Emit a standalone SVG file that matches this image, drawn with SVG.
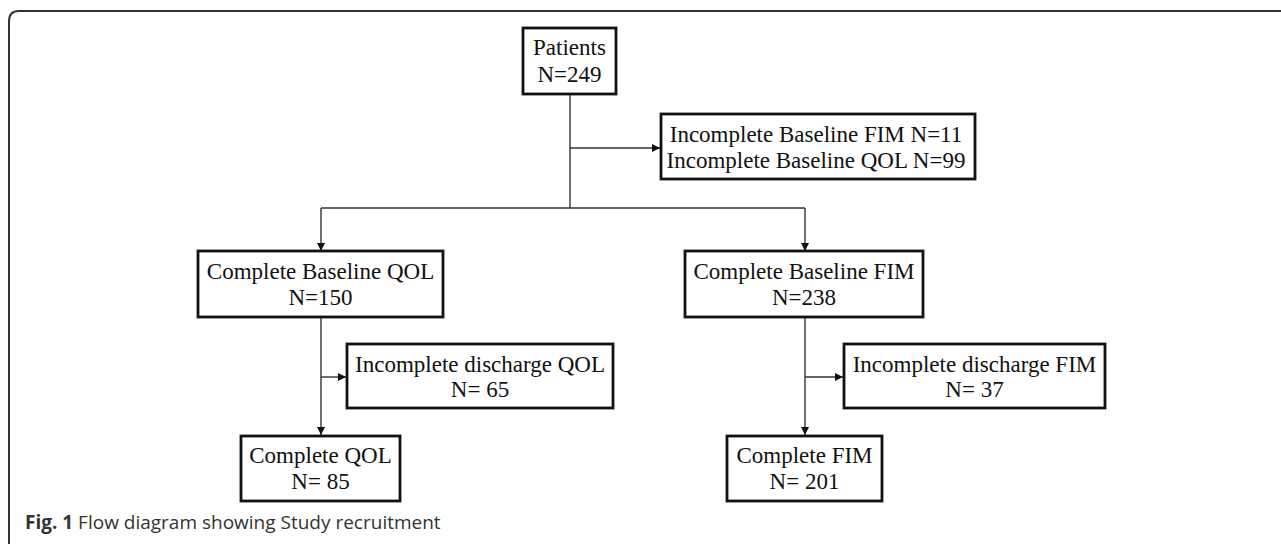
<svg xmlns="http://www.w3.org/2000/svg" width="1281" height="544" viewBox="0 0 1281 544">
<style>
.box{fill:#fff;stroke:#111;stroke-width:2.8}
.t{font-family:"Liberation Serif","Times New Roman",serif;font-size:23px;fill:#111;text-anchor:middle}
.c{fill:none;stroke:#333;stroke-width:1.4}
.frame{fill:none;stroke:#333;stroke-width:2}
.cap{font-family:"Open Sans","Noto Sans",sans-serif;font-size:19px;fill:#333}
</style>
<defs>
<marker id="ah" viewBox="0 0 10 10" refX="10" refY="5" markerWidth="8" markerHeight="8" markerUnits="userSpaceOnUse" orient="auto">
<path d="M0,0 L10,5 L0,10 z" fill="#111"/>
</marker>
</defs>
<rect width="1281" height="544" fill="#fff"/>
<path class="frame" d="M9,544 L9,21 Q9,11 19,11 L1281,11"/>
<g id="connectors">
<path class="c" d="M570,94 L570,208"/>
<path class="c" d="M570,148 L660,148" marker-end="url(#ah)"/>
<path class="c" d="M321,208 L805,208"/>
<path class="c" d="M321,208 L321,251" marker-end="url(#ah)"/>
<path class="c" d="M805,208 L805,251" marker-end="url(#ah)"/>
<path class="c" d="M321,317 L321,435" marker-end="url(#ah)"/>
<path class="c" d="M321,377 L346,377" marker-end="url(#ah)"/>
<path class="c" d="M805,317 L805,435" marker-end="url(#ah)"/>
<path class="c" d="M805,377 L843,377" marker-end="url(#ah)"/>
</g>
<g id="patients">
<rect class="box" x="523" y="28" width="93" height="66"/>
<text class="t" x="569.5" y="55">Patients</text>
<text class="t" x="569.5" y="82">N=249</text>
</g>
<g id="incomplete-baseline">
<rect class="box" x="661" y="114" width="314" height="65"/>
<text class="t" x="816" y="142">Incomplete Baseline FIM N=11</text>
<text class="t" x="816" y="168">Incomplete Baseline QOL N=99</text>
</g>
<g id="complete-baseline-qol">
<rect class="box" x="198" y="251" width="245" height="66"/>
<text class="t" x="320.5" y="279">Complete Baseline QOL</text>
<text class="t" x="320.5" y="305">N=150</text>
</g>
<g id="complete-baseline-fim">
<rect class="box" x="685" y="251" width="238" height="66"/>
<text class="t" x="804" y="279">Complete Baseline FIM</text>
<text class="t" x="804" y="305">N=238</text>
</g>
<g id="incomplete-discharge-qol">
<rect class="box" x="347" y="344" width="266" height="64"/>
<text class="t" x="480" y="372">Incomplete discharge QOL</text>
<text class="t" x="480" y="397">N= 65</text>
</g>
<g id="incomplete-discharge-fim">
<rect class="box" x="844" y="344" width="261" height="64"/>
<text class="t" x="974.5" y="372">Incomplete discharge FIM</text>
<text class="t" x="974.5" y="397">N= 37</text>
</g>
<g id="complete-qol">
<rect class="box" x="241" y="436" width="159" height="65"/>
<text class="t" x="320.5" y="463">Complete QOL</text>
<text class="t" x="320.5" y="489">N= 85</text>
</g>
<g id="complete-fim">
<rect class="box" x="727" y="436" width="155" height="65"/>
<text class="t" x="804.5" y="463">Complete FIM</text>
<text class="t" x="804.5" y="489">N= 201</text>
</g>
<text class="cap" x="25" y="529"><tspan font-weight="bold">Fig. 1</tspan> Flow diagram showing Study recruitment</text>
</svg>
